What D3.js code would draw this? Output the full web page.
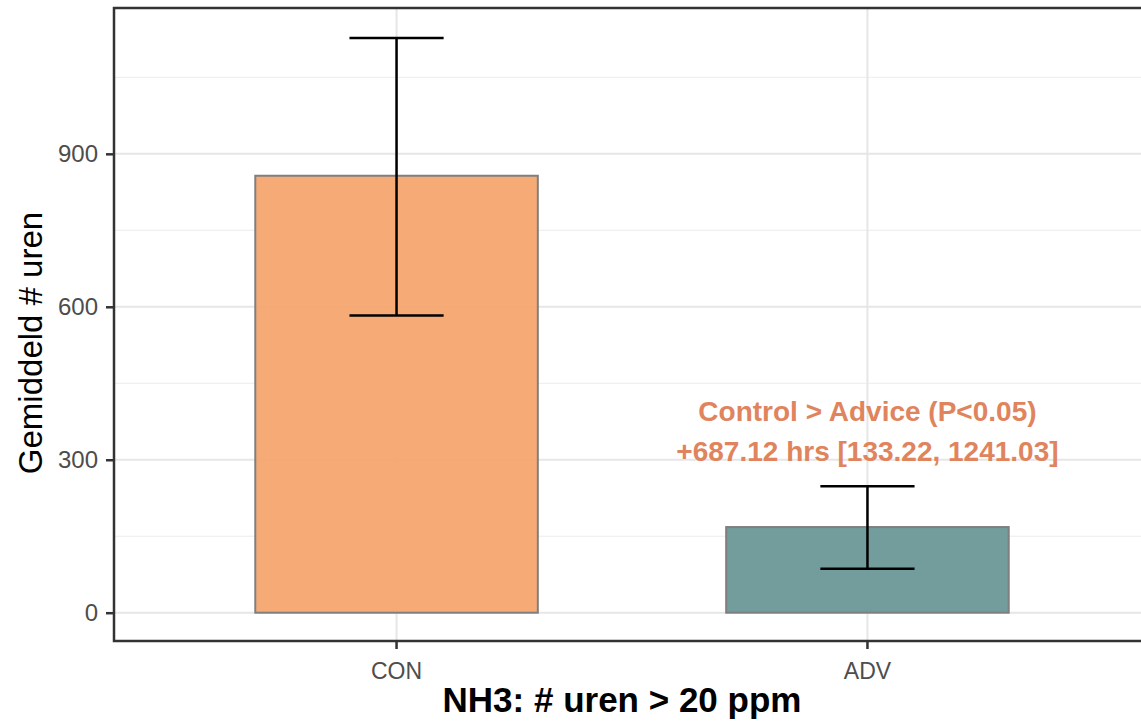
<!DOCTYPE html>
<html>
<head>
<meta charset="utf-8">
<script src="https://cdn.jsdelivr.net/npm/d3@7"></script>
<style>
  body { margin: 0; background: #fff; }
  text { font-family: "Liberation Sans", Arial, sans-serif; }
</style>
</head>
<body>
<svg id="chart" width="1141" height="722"></svg>
<script>
const groups = ["CON", "ADV"];
const means = [857, 168];
const lower = [583, 86];
const upper = [1127, 248];
const fills = ["#F5A66F", "#6B9797"];
const yTicks = [0, 300, 600, 900];
const yMinor = [150, 450, 750, 1050];
const noteLines = ["Control > Advice (P<0.05)", "+687.12 hrs [133.22, 1241.03]"];

const svg = d3.select("#chart");
const panel = { left: 114, top: 8, right: 1150, bottom: 641 };

const x = d3.scaleBand()
  .domain(groups)
  .range([panel.left, panel.right])
  .paddingInner(0.4)
  .paddingOuter(0.3);

const y = d3.scaleLinear()
  .domain([-55.5, 1186])
  .range([panel.bottom, panel.top]);

const cx = (g) => x(g) + x.bandwidth() / 2;
const whisker = x.step() * 0.1;

// grid
svg.append("g").selectAll("line").data(yMinor).join("line")
  .attr("x1", panel.left).attr("x2", panel.right)
  .attr("y1", (d) => y(d)).attr("y2", (d) => y(d))
  .attr("stroke", "#ececec").attr("stroke-width", 1);
svg.append("g").selectAll("line").data(yTicks).join("line")
  .attr("x1", panel.left).attr("x2", panel.right)
  .attr("y1", (d) => y(d)).attr("y2", (d) => y(d))
  .attr("stroke", "#e6e6e6").attr("stroke-width", 2);
svg.append("g").selectAll("line").data(groups).join("line")
  .attr("x1", cx).attr("x2", cx)
  .attr("y1", panel.top).attr("y2", panel.bottom)
  .attr("stroke", "#e6e6e6").attr("stroke-width", 2);

// bars
svg.append("g").selectAll("rect").data(groups).join("rect")
  .attr("x", (g) => x(g))
  .attr("width", x.bandwidth())
  .attr("y", (g, i) => y(means[i]))
  .attr("height", (g, i) => y(0) - y(means[i]))
  .attr("fill", (g, i) => fills[i])
  .attr("fill-opacity", 0.95)
  .attr("stroke", "#7f7f7f")
  .attr("stroke-width", 2);

// error bars
const eb = svg.append("g").attr("stroke", "#000").attr("stroke-width", 2.5);
groups.forEach((g, i) => {
  eb.append("line").attr("x1", cx(g)).attr("x2", cx(g))
    .attr("y1", y(lower[i])).attr("y2", y(upper[i]));
  [lower[i], upper[i]].forEach((v) => {
    eb.append("line").attr("x1", cx(g) - whisker).attr("x2", cx(g) + whisker)
      .attr("y1", y(v)).attr("y2", y(v));
  });
});

// annotation
svg.append("g").selectAll("text").data(noteLines).join("text")
  .attr("x", cx("ADV"))
  .attr("y", (d, i) => 421 + i * 40)
  .attr("text-anchor", "middle")
  .attr("font-size", 28)
  .attr("font-weight", "bold")
  .attr("fill", "#E0845D")
  .text((d) => d);

// panel border
svg.append("rect")
  .attr("x", panel.left).attr("y", panel.top)
  .attr("width", panel.right - panel.left).attr("height", panel.bottom - panel.top)
  .attr("fill", "none").attr("stroke", "#333").attr("stroke-width", 2.5);

// axes
const yAxis = svg.append("g")
  .attr("transform", `translate(${panel.left},0)`)
  .call(d3.axisLeft(y).tickValues(yTicks).tickSize(8).tickPadding(8));
yAxis.select(".domain").remove();
yAxis.selectAll("line").attr("stroke", "#333").attr("stroke-width", 2.5);
yAxis.selectAll("text").attr("font-size", 24).attr("fill", "#4d4d4d")
  .attr("font-family", "Liberation Sans, Arial, sans-serif");

const xAxis = svg.append("g")
  .attr("transform", `translate(0,${panel.bottom})`)
  .call(d3.axisBottom(x).tickSize(8).tickPadding(14));
xAxis.select(".domain").remove();
xAxis.selectAll("line").attr("stroke", "#333").attr("stroke-width", 2.5);
xAxis.selectAll("text").attr("font-size", 23).attr("fill", "#4d4d4d")
  .attr("font-family", "Liberation Sans, Arial, sans-serif");

// titles
svg.append("text")
  .attr("transform", "translate(42,343) rotate(-90)")
  .attr("text-anchor", "middle")
  .attr("font-size", 33)
  .attr("fill", "#000")
  .text("Gemiddeld # uren");

svg.append("text")
  .attr("x", 622)
  .attr("y", 712)
  .attr("text-anchor", "middle")
  .attr("font-size", 35)
  .attr("font-weight", "bold")
  .attr("fill", "#000")
  .text("NH3: # uren > 20 ppm");
</script>
</body>
</html>
